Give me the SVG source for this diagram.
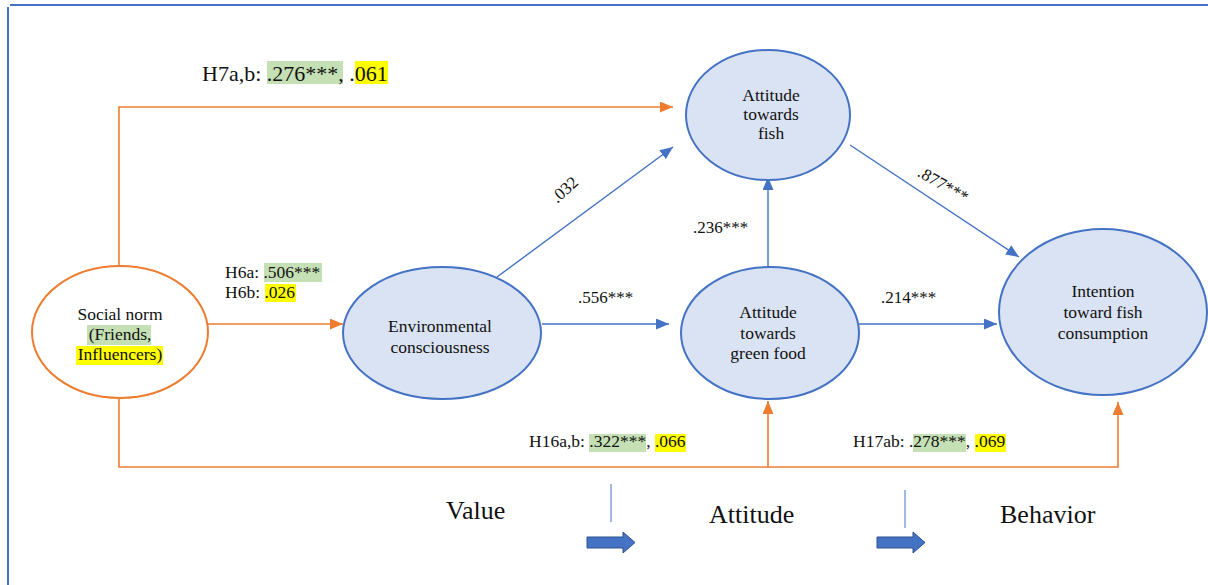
<svg xmlns="http://www.w3.org/2000/svg" width="1208" height="585" viewBox="0 0 1208 585">
<defs>
<style>
text{font-family:"Liberation Serif","Times New Roman",serif;fill:#111}
.n{font-size:17.5px;text-anchor:middle}
.l{font-size:17.5px}
.c{font-size:17px}
.big{font-size:26px}
.blue{stroke:#4472C4;stroke-width:1.4;fill:none}
.orange{stroke:#ED7D31;stroke-width:1.6;fill:none}
.ell{fill:#DAE3F3;stroke:#4472C4;stroke-width:2}
.g{fill:#C5E0B4}
.y{fill:#FFFF00}
</style>
<marker id="ab" markerUnits="userSpaceOnUse" markerWidth="13" markerHeight="11" refX="13" refY="5.5" orient="auto"><path d="M0,0 L13,5.5 L0,11 z" fill="#4472C4"/></marker>
<marker id="ao" markerUnits="userSpaceOnUse" markerWidth="13" markerHeight="11" refX="13" refY="5.5" orient="auto"><path d="M0,0 L13,5.5 L0,11 z" fill="#ED7D31"/></marker>
</defs>
<rect width="1208" height="585" fill="#fff"/>
<g id="frame">
<line x1="10" y1="5" x2="1208" y2="5" stroke="#4472C4" stroke-width="2"/>
<line x1="8" y1="7" x2="8" y2="585" stroke="#4472C4" stroke-width="2"/>
</g>
<g id="connectors">
<polyline class="orange" points="119,265 119,107 673,107" marker-end="url(#ao)"/>
<line class="orange" x1="208" y1="324" x2="343" y2="324" marker-end="url(#ao)"/>
<polyline class="orange" points="119,398 119,467 1118,467 1118,402" marker-end="url(#ao)"/>
<line class="orange" x1="768" y1="467" x2="768" y2="401" marker-end="url(#ao)"/>
<line class="blue" x1="497" y1="277" x2="673" y2="147" marker-end="url(#ab)"/>
<line class="blue" x1="542" y1="324" x2="669" y2="324" marker-end="url(#ab)"/>
<line class="blue" x1="768" y1="268" x2="768" y2="177" marker-end="url(#ab)"/>
<line class="blue" x1="850" y1="145" x2="1019" y2="257" marker-end="url(#ab)"/>
<line class="blue" x1="859" y1="324" x2="997" y2="324" marker-end="url(#ab)"/>
</g>
<g id="social-norm">
<ellipse cx="120" cy="332" rx="88" ry="66" fill="#fff" stroke="#ED7D31" stroke-width="2"/>
<rect class="g" x="87" y="325" width="64" height="20"/>
<rect class="y" x="76" y="346" width="87" height="19"/>
<text class="n" x="120" y="320">Social norm</text>
<text class="n" x="120" y="340">(Friends,</text>
<text class="n" x="120" y="360">Influencers)</text>
</g>
<g id="environmental-consciousness">
<ellipse class="ell" cx="442" cy="333" rx="99" ry="66"/>
<text class="n" x="440" y="332">Environmental</text>
<text class="n" x="440" y="353">consciousness</text>
</g>
<g id="attitude-fish">
<ellipse class="ell" cx="768" cy="115" rx="82" ry="65"/>
<text class="n" x="771" y="101">Attitude</text>
<text class="n" x="771" y="120">towards</text>
<text class="n" x="771" y="139">fish</text>
</g>
<g id="attitude-green-food">
<ellipse class="ell" cx="770" cy="333" rx="89" ry="66"/>
<text class="n" x="768" y="318">Attitude</text>
<text class="n" x="768" y="339">towards</text>
<text class="n" x="768" y="359">green food</text>
</g>
<g id="intention">
<ellipse class="ell" cx="1103" cy="312" rx="104" ry="83"/>
<text class="n" x="1103" y="297">Intention</text>
<text class="n" x="1103" y="318">toward fish</text>
<text class="n" x="1103" y="339">consumption</text>
</g>
<g id="labels">
<rect class="g" x="267" y="61" width="76" height="23"/>
<rect class="y" x="355" y="61" width="33" height="23"/>
<text x="202" y="81" style="font-size:22px">H7a,b: .276***, .061</text>
<rect class="g" x="264" y="263" width="58" height="19"/>
<rect class="y" x="265" y="284" width="31" height="18"/>
<text class="l" x="225" y="278">H6a: .506***</text>
<text class="l" x="225" y="298">H6b: .026</text>
<rect class="g" x="589" y="434" width="57" height="18"/>
<rect class="y" x="655" y="434" width="31" height="18"/>
<text class="l" x="529" y="447">H16a,b: .322***, .066</text>
<rect class="g" x="913" y="434" width="53" height="18"/>
<rect class="y" x="975" y="434" width="31" height="18"/>
<text class="l" x="853" y="447">H17ab: .278***, .069</text>
<text class="c" x="565" y="195" transform="rotate(-42 565 190)" text-anchor="middle">.032</text>
<text class="c" x="943" y="190" transform="rotate(30 943 185)" text-anchor="middle">.877***</text>
<text class="c" x="693" y="233">.236***</text>
<text class="c" x="578" y="303">.556***</text>
<text class="c" x="881" y="303">.214***</text>
</g>
<g id="stages">
<text class="big" x="446" y="519">Value</text>
<text class="big" x="709" y="523">Attitude</text>
<text class="big" x="1000" y="523">Behavior</text>
<line x1="611" y1="484" x2="611" y2="522" stroke="#4472C4" stroke-width="1"/>
<line x1="905" y1="490" x2="905" y2="528" stroke="#4472C4" stroke-width="1"/>
<path d="M587,537 H623 V532 L635,542.5 L623,553 V548 H587 Z" fill="#4472C4" stroke="#2F528F" stroke-width="1"/>
<path d="M877,537 H913 V532 L925,542.5 L913,553 V548 H877 Z" fill="#4472C4" stroke="#2F528F" stroke-width="1"/>
</g>
</svg>
